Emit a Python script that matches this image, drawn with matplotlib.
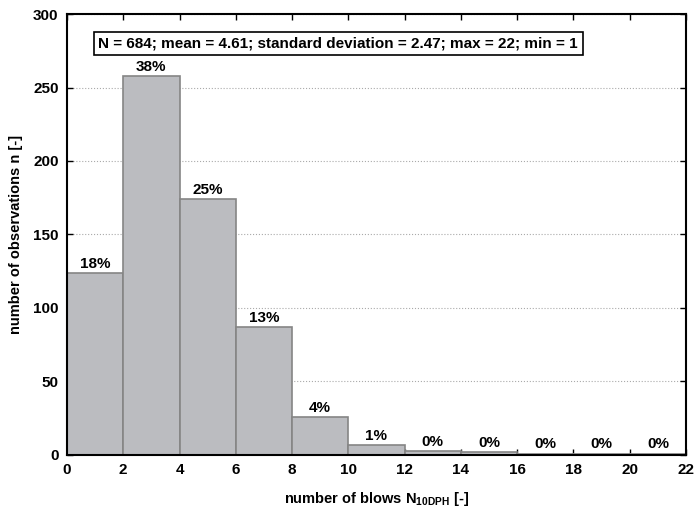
import numpy as np
import matplotlib.pyplot as plt

plt.rcParams['font.family'] = 'Liberation Sans'
plt.rcParams['font.weight'] = 'bold'
plt.rcParams['mathtext.fontset'] = 'custom'
plt.rcParams['mathtext.rm'] = 'Liberation Sans:bold'
plt.rcParams['mathtext.bf'] = 'Liberation Sans:bold'

bin_edges = [0, 2, 4, 6, 8, 10, 12, 14, 16, 18, 20, 22]
counts = [124, 258, 174, 87, 26, 7, 3, 2, 1, 1, 1]
percent_labels = ['18%', '38%', '25%', '13%', '4%', '1%', '0%', '0%', '0%', '0%', '0%']
stats_text = 'N = 684; mean = 4.61; standard deviation = 2.47; max = 22; min = 1'

fig = plt.figure(figsize=(6.94, 5.11), dpi=100)
ax = fig.add_axes([0.0965, 0.1096, 0.892, 0.863])

lefts = bin_edges[:-1]
widths = np.diff(bin_edges)
ax.bar(lefts, counts, width=widths, align='edge', color='#bbbcc0',
       edgecolor='#858585', linewidth=1.2, zorder=2)

for x, w, c, lab in zip(lefts, widths, counts, percent_labels):
    ax.annotate(lab, (x + w / 2, c), xytext=(0, 1.5), textcoords='offset points',
                ha='center', va='bottom', fontsize=11, fontweight='bold')

ax.set_xlim(0, 22)
ax.set_ylim(0, 300)
ax.set_xticks(range(0, 23, 2))
ax.set_yticks(range(0, 301, 50))
ax.grid(axis='y', linestyle=':', color='#aaaaaa', linewidth=0.8, zorder=0)
ax.tick_params(direction='in', length=4, width=1, labelsize=11,
               top=True, right=True, pad=6)
for lbl in ax.get_xticklabels() + ax.get_yticklabels():
    lbl.set_fontweight('bold')
for s in ax.spines.values():
    s.set_linewidth(1.5)

ax.set_xlabel(r'number of blows N$_{\mathbf{10DPH}}$ [-]', fontsize=10.5,
              fontweight='bold', labelpad=9)
ax.set_ylabel('number of observations n [-]', fontsize=10.5,
              fontweight='bold', labelpad=7)

ax.text(0.438, 0.934, stats_text, transform=ax.transAxes, ha='center',
        va='center', fontsize=11, fontweight='bold',
        bbox=dict(boxstyle='square,pad=0.3', facecolor='white',
                  edgecolor='black', linewidth=1.2))

fig.savefig('out.png', dpi=100)
